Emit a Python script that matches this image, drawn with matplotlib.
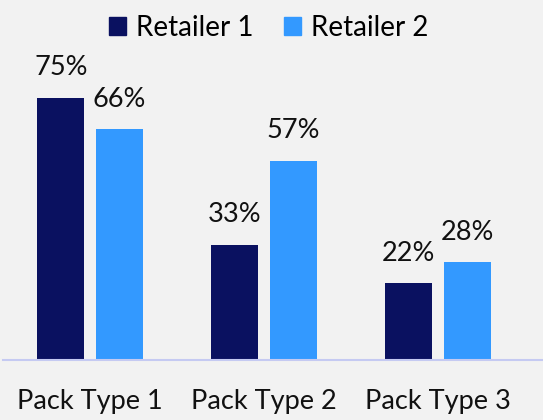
import numpy as np
import matplotlib.pyplot as plt
from matplotlib.patches import Patch

plt.rcParams['font.family'] = ['Lato', 'DejaVu Sans']

categories = ["Pack Type 1", "Pack Type 2", "Pack Type 3"]
retailer1 = [75, 33, 22]
retailer2 = [66, 57, 28]
series_names = ["Retailer 1", "Retailer 2"]
colors = ["#0A1160", "#3399FF"]

fig = plt.figure(figsize=(5.43, 4.2), dpi=100)
fig.patch.set_facecolor("#F2F2F2")
ax = fig.add_axes([3 / 543, 60 / 420, 540 / 543, 330 / 420])
ax.set_facecolor("#F2F2F2")

x = np.arange(len(categories))
w = 0.27
off = 0.168
for vals, sh, c in [(retailer1, -off, colors[0]), (retailer2, off, colors[1])]:
    bars = ax.bar(x + sh, vals, width=w, color=c)
    for b, v in zip(bars, vals):
        ax.annotate(f"{v}%", (b.get_x() + b.get_width() / 2, v),
                    xytext=(0, 16), textcoords="offset points",
                    ha="center", va="baseline", fontsize=19.5, color="#111111")

ax.set_xlim(-0.5, 2.603)
ax.set_ylim(0, 94.3)
for s in ["top", "right", "left"]:
    ax.spines[s].set_visible(False)
ax.spines["bottom"].set_color("#C5CAF2")
ax.spines["bottom"].set_linewidth(1.5)
ax.set_yticks([])
ax.set_xticks(x)
ax.set_xticklabels(categories, fontsize=19.5, color="#111111")
ax.tick_params(axis="x", length=0, pad=21)

handles = [Patch(color=c) for c in colors]
fig.legend(handles, series_names, loc="upper center", bbox_to_anchor=(0.495, 1.025),
           ncol=2, frameon=False, fontsize=20, handlelength=0.62, handleheight=0.62,
           handletextpad=0.35, columnspacing=1.1)

fig.savefig("out.png", dpi=100, facecolor=fig.get_facecolor())
